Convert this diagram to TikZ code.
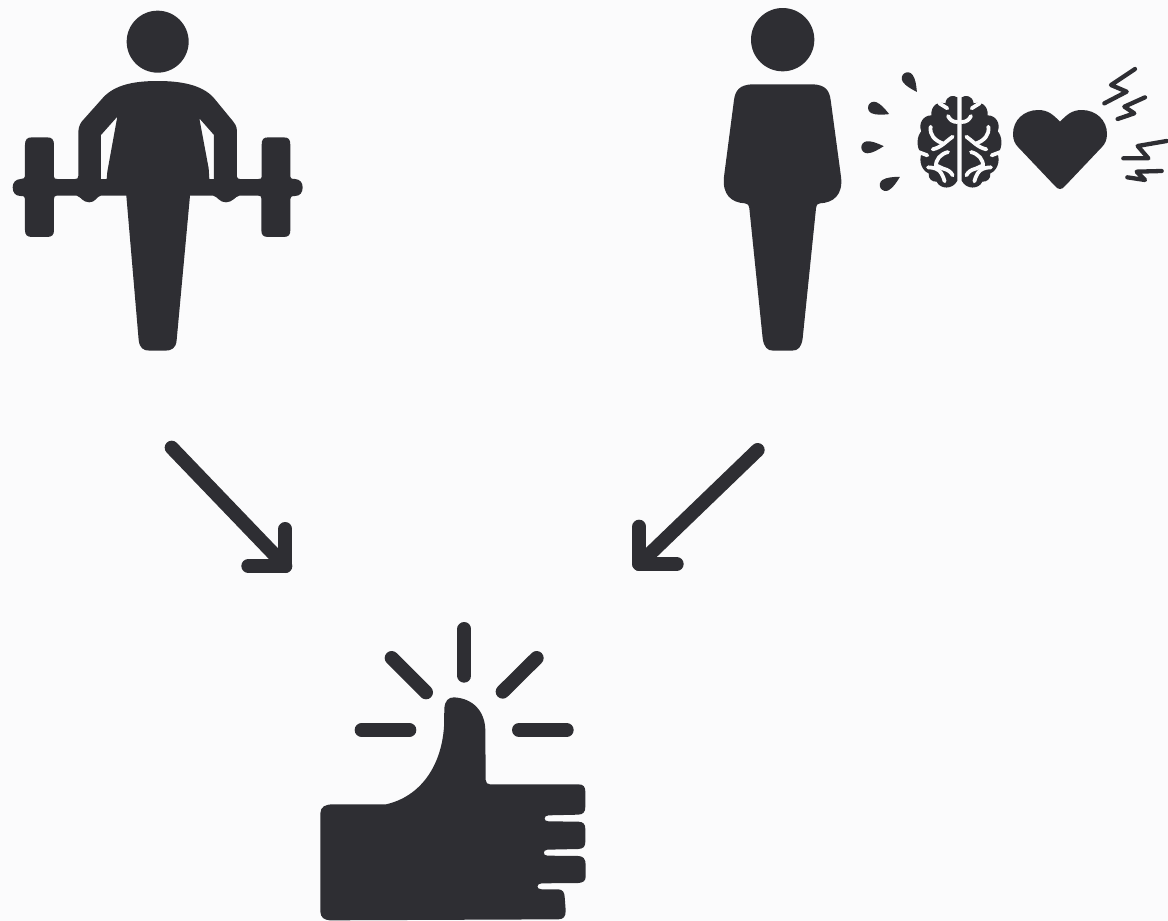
\documentclass[tikz,border=0pt]{standalone}
\definecolor{ink}{HTML}{2E2E33}
\definecolor{paper}{HTML}{FBFBFC}
\tikzset{
  inkfill/.style={fill=ink,draw=none},
  zoomed/.style={shift={#1},scale=1/3},
  arrowline/.style={draw=ink,line width=14pt,line cap=round,line join=round},
  rayline/.style={draw=ink,line width=14pt,line cap=round},
  boltline/.style={draw=ink,line width=4.3pt,line cap=round,line join=round},
  foldline/.style={draw=paper,line width=3.8pt,line cap=round,line join=round},
}
\newcommand{\tear}[3]{\fill[ink,shift={(#1,#2)},rotate=#3]
  (16.5,0) .. controls (10,-3.5) and (5,-6) .. (0,-6)
  .. controls (-3.3,-6) and (-6,-3.3) .. (-6,0)
  .. controls (-6,3.3) and (-3.3,6) .. (0,6)
  .. controls (5,6) and (10,3.5) .. (16.5,0) -- cycle;}
\newcommand{\brainhalf}{%
  \fill[ink] (142,22) .. controls (130,14) and (110,16) .. (106,40)
    .. controls (88,32) and (62,44) .. (64,76)
    .. controls (40,76) and (24,100) .. (34,124)
    .. controls (22,136) and (16,168) .. (34,192)
    .. controls (26,215) and (36,242) .. (56,250)
    .. controls (54,268) and (68,276) .. (80,275)
    .. controls (90,298) and (128,300) .. (142,272) -- cycle;
  \draw[foldline] (88,40) -- (112,55);
  \draw[foldline] (142,96) .. controls (128,96) and (120,90) .. (114,78);
  \draw[foldline] (62,110) .. controls (58,135) and (75,152) .. (98,160);
  \draw[foldline] (128,140) .. controls (110,152) and (95,172) .. (68,178);
  \draw[foldline] (20,184) -- (52,196);
  \draw[foldline] (114,186) .. controls (92,192) and (76,208) .. (78,230);
  \draw[foldline] (54,232) .. controls (72,232) and (88,238) .. (94,250) .. controls (98,258) and (102,264) .. (104,274);
  \draw[foldline] (78,226) -- (100,236) .. controls (115,240) and (122,245) .. (128,256);
}
\begin{document}
\begin{tikzpicture}[x=1pt,y=-1pt]
\fill[paper] (0,0) rectangle (1168,921);
\useasboundingbox (0,0) rectangle (1168,921);
% lifter
\begin{scope}[zoomed={(0,0)}]
\fill[ink] (473,125) circle[radius=93];
\fill[ink,even odd rule]
 (473,243) .. controls (545,243) and (605,255) .. (640,292)
 -- (700,365) .. controls (712,380) and (711,390) .. (711,400)
 -- (711,530) .. controls (712,535) and (714,537) .. (720,537)
 -- (775,537) .. controls (783,537) and (785,535) .. (785,530)
 -- (785,435) .. controls (785,418) and (790,412) .. (805,412)
 -- (850,412) .. controls (866,412) and (871,418) .. (871,435)
 -- (871,530) .. controls (871,535) and (875,537) .. (885,537)
 .. controls (900,538) and (908,548) .. (908,562)
 .. controls (908,578) and (900,588) .. (885,588)
 .. controls (875,588) and (871,590) .. (871,597)
 -- (871,690) .. controls (871,705) and (866,711) .. (850,711)
 -- (805,711) .. controls (790,711) and (784,705) .. (784,690)
 -- (784,595) .. controls (784,589) and (781,587) .. (775,587)
 -- (718,587) .. controls (706,589) and (698,607) .. (678,607)
 .. controls (658,607) and (654,591) .. (640,587)
 -- (570,587) -- (530,1020) .. controls (528,1045) and (515,1052) .. (495,1052)
 -- (450,1052) .. controls (430,1052) and (419,1045) .. (416,1020)
 -- (379,587) -- (302,587) .. controls (290,590) and (286,607) .. (268,607)
 .. controls (248,607) and (244,591) .. (230,587)
 -- (170,587) .. controls (164,587) and (162,590) .. (162,597)
 -- (162,690) .. controls (162,705) and (156,711) .. (140,711)
 -- (97,711) .. controls (81,711) and (75,705) .. (75,690)
 -- (75,597) .. controls (75,590) and (72,588) .. (62,588)
 .. controls (46,588) and (38,578) .. (38,562)
 .. controls (38,548) and (46,538) .. (62,537)
 .. controls (71,536) and (75,535) .. (75,528)
 -- (75,435) .. controls (75,418) and (81,412) .. (97,412)
 -- (140,412) .. controls (156,412) and (162,418) .. (162,435)
 -- (162,530) .. controls (162,535) and (165,537) .. (172,537)
 -- (225,537) .. controls (232,537) and (235,535) .. (235,528)
 -- (235,400) .. controls (235,385) and (238,375) .. (245,365)
 -- (310,292) .. controls (345,255) and (400,243) .. (473,243) -- cycle
 (352,350) -- (303,405) -- (303,537) -- (320,537) -- (322,515) -- cycle
 (598,355) -- (642,405) -- (642,537) -- (628,537) -- (626,505) -- cycle;
\end{scope}
% standing person
\begin{scope}[zoomed={(710,0)}]
\fill[ink] (218,119) circle[radius=95];
\fill[ink] (218,253) -- (310,253) .. controls (345,255) and (358,270) .. (362,300)
 -- (393,530) .. controls (400,585) and (370,608) .. (330,610)
 .. controls (322,610) and (320,615) .. (318,625)
 -- (278,1015) .. controls (274,1042) and (265,1052) .. (245,1052)
 -- (190,1052) .. controls (172,1052) and (162,1042) .. (158,1015)
 -- (118,625) .. controls (116,615) and (113,610) .. (105,610)
 .. controls (65,608) and (36,585) .. (42,530)
 -- (72,300) .. controls (76,270) and (90,255) .. (125,253) -- cycle;
\end{scope}
% drops
\tear{907.7}{78.3}{-56}
\tear{874}{107.7}{-23}
\tear{867.3}{147.3}{4}
\tear{885.7}{185}{30}
% brain
\begin{scope}[zoomed={(910,90)}]
\brainhalf
\end{scope}
\begin{scope}[shift={(1009,90)},xscale=-1/3,yscale=1/3]
\brainhalf
\end{scope}
% heart
\begin{scope}[zoomed={(850,60)}]
\fill[ink] (630,185) .. controls (650,165) and (665,150) .. (695,150)
 .. controls (738,150) and (771,180) .. (771,222)
 .. controls (771,240) and (765,252) .. (755,262)
 -- (645,378) .. controls (635,390) and (625,390) .. (615,378)
 -- (505,262) .. controls (495,252) and (489,240) .. (489,222)
 .. controls (489,180) and (522,150) .. (565,150)
 .. controls (595,150) and (610,165) .. (630,185) -- cycle;
\end{scope}
% bolts
\begin{scope}[zoomed={(1095,60)}]
\draw[boltline] (120,27) -- (48,75) -- (95,95) -- (28,130);
\draw[boltline] (150,112) -- (88,140) -- (118,160) -- (68,177);
\draw[boltline] (215,243) -- (128,258) -- (160,295) -- (85,295);
\draw[boltline] (200,333) -- (125,335) -- (150,360) -- (97,352);
\end{scope}
% arrows
\begin{scope}[zoomed={(150,430)}]
\coordinate (aStart) at (65,53);
\coordinate (aCorner) at (406,408);
\coordinate (aUp) at (406,297);
\coordinate (aLeft) at (295,408);
\draw[arrowline] (aStart) -- (aCorner);
\draw[arrowline] (aUp) -- (aCorner) -- (aLeft);
\end{scope}
\begin{scope}[zoomed={(620,430)}]
\coordinate (bStart) at (413,60);
\coordinate (bCorner) at (58,402);
\coordinate (bUp) at (58,290);
\coordinate (bRight) at (170,402);
\draw[arrowline] (bStart) -- (bCorner);
\draw[arrowline] (bUp) -- (bCorner) -- (bRight);
\end{scope}
% thumb
\begin{scope}[zoomed={(310,610)}]
\draw[rayline] (463,57) -- (463,197);
\draw[rayline] (245,144) -- (348,247);
\draw[rayline] (680,144) -- (578,245);
\draw[rayline] (155,360) -- (298,360);
\draw[rayline] (627,360) -- (770,360);
\fill[ink] (403,295) .. controls (405,272) and (415,262) .. (432,262)
 .. controls (490,265) and (525,305) .. (526,360)
 -- (527,510) .. controls (528,519) and (532,523) .. (540,523)
 -- (805,523) .. controls (820,523) and (826,530) .. (826,545)
 -- (826,590) .. controls (826,606) and (820,613) .. (805,614)
 -- (715,616) .. controls (700,617) and (700,634) .. (715,634)
 -- (805,635) .. controls (820,636) and (826,642) .. (826,657)
 -- (826,695) .. controls (826,710) and (820,716) .. (805,717)
 -- (712,719) .. controls (698,720) and (698,737) .. (712,737)
 -- (805,738) .. controls (820,739) and (827,746) .. (827,765)
 -- (827,800) .. controls (827,812) and (820,818) .. (805,819)
 -- (695,820) .. controls (678,821) and (678,838) .. (695,838)
 -- (745,838) .. controls (758,839) and (763,846) .. (764,860)
 -- (767,900) .. controls (768,920) and (760,928) .. (745,928)
 -- (60,931) .. controls (42,930) and (32,922) .. (31,905)
 -- (31,610) .. controls (32,590) and (45,583) .. (70,583)
 -- (228,583) .. controls (330,560) and (394,470) .. (402,350) -- cycle;
\end{scope}
\end{tikzpicture}
\end{document}
